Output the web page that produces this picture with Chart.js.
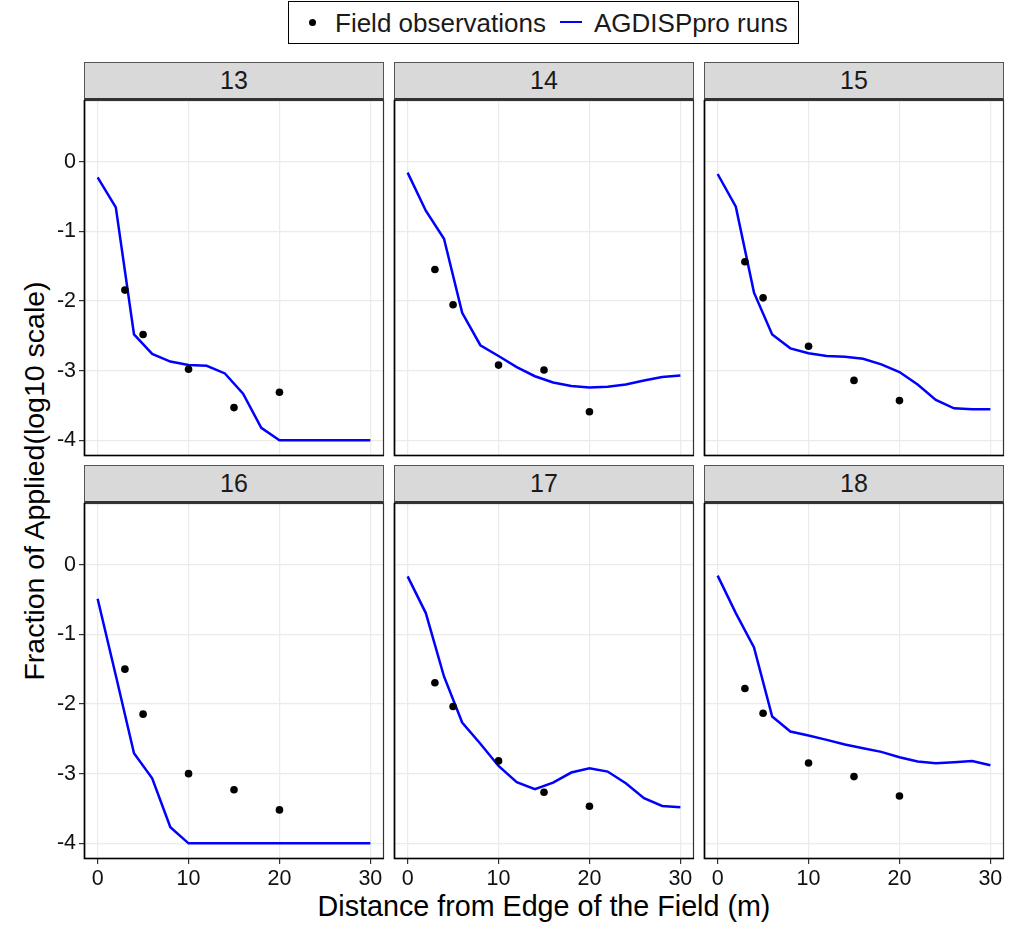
<!DOCTYPE html>
<html>
<head>
<meta charset="utf-8">
<script src="https://cdn.jsdelivr.net/npm/chart.js@4/dist/chart.umd.min.js"></script>
<style>
  html, body { margin: 0; padding: 0; background: #fff; }
  body { width: 1022px; height: 925px; position: relative; overflow: hidden;
         font-family: "Liberation Sans", Arial, sans-serif; color: #1a1a1a; }
  canvas { position: absolute; }
  .strip { position: absolute; box-sizing: border-box; background: #D9D9D9;
           border: 1px solid #555; border-bottom: 2px solid #333;
           font-size: 25px; color: #1a1a1a; text-align: center; }
  .abs { position: absolute; white-space: nowrap; }
</style>
</head>
<body>
<div id="legend" class="abs" style="left:288px;top:1px;width:511px;height:43px;box-sizing:border-box;border:1px solid #000;"></div>
<div id="legDot" class="abs" style="left:308.5px;top:19px;width:7px;height:7px;border-radius:50%;background:#000;"></div>
<div id="legText1" class="abs" style="left:335px;top:22.5px;transform:translateY(-50%);font-size:26px;line-height:30px;">Field observations</div>
<div id="legLine" class="abs" style="left:560px;top:20.5px;width:22px;height:2.5px;background:#0000FF;"></div>
<div id="legText2" class="abs" style="left:594px;top:22.5px;transform:translateY(-50%);font-size:26px;line-height:30px;">AGDISPpro runs</div>
<div id="ytitle" class="abs" style="left:34px;top:481px;transform:translate(-50%,-50%) rotate(-90deg);font-size:28.5px;line-height:32px;color:#000;">Fraction of Applied(log10 scale)</div>
<div id="xtitle" class="abs" style="left:544px;top:906px;transform:translate(-50%,-50%);font-size:28.7px;line-height:32px;color:#000;">Distance from Edge of the Field (m)</div>
<script>
// ---- data ----
const panelIds = ['13', '14', '15', '16', '17', '18'];
const modelDist = [0, 2, 4, 6, 8, 10, 12, 14, 16, 18, 20, 22, 24, 26, 28, 30];
const obsDist = [3, 5, 10, 15, 20];
const xTickValues = [0, 10, 20, 30];
const yTickValues = [-4, -3, -2, -1, 0];

const model13 = [-0.225, -0.656, -2.48, -2.76, -2.87, -2.92, -2.93, -3.04, -3.33, -3.82, -4, -4, -4, -4, -4, -4];
const obs13 = [-1.844, -2.48, -2.98, -3.53, -3.31];
const model14 = [-0.158, -0.704, -1.107, -2.17, -2.635, -2.79, -2.95, -3.08, -3.17, -3.22, -3.24, -3.23, -3.20, -3.14, -3.09, -3.07];
const obs14 = [-1.547, -2.055, -2.92, -2.99, -3.59];
const model15 = [-0.177, -0.647, -1.88, -2.48, -2.68, -2.75, -2.79, -2.80, -2.83, -2.91, -3.02, -3.20, -3.42, -3.54, -3.555, -3.555];
const obs15 = [-1.437, -1.955, -2.65, -3.14, -3.43];
const model16 = [-0.489, -1.59, -2.707, -3.066, -3.77, -4, -4, -4, -4, -4, -4, -4, -4, -4, -4, -4];
const obs16 = [-1.50, -2.146, -3.0, -3.23, -3.52];
const model17 = [-0.168, -0.695, -1.605, -2.266, -2.57, -2.889, -3.123, -3.224, -3.128, -2.984, -2.922, -2.97, -3.138, -3.353, -3.463, -3.483];
const obs17 = [-1.696, -2.036, -2.817, -3.267, -3.468];
const model18 = [-0.158, -0.695, -1.188, -2.18, -2.395, -2.453, -2.515, -2.582, -2.635, -2.687, -2.764, -2.826, -2.85, -2.836, -2.82, -2.88];
const obs18 = [-1.777, -2.132, -2.846, -3.042, -3.32];

const modelSeries = [model13, model14, model15, model16, model17, model18];
const obsSeries = [obs13, obs14, obs15, obs16, obs17, obs18];

// ---- layout ----
const colLefts = [84, 394, 704];
const rowTops = [100, 503];
const PW = 300, PH = 356, AXW = 70, AXH = 40, PADT = 20, PADR = 10, STRIPH = 38;
const FONT = "'Liberation Sans', Arial, sans-serif";

const borderPlugin = {
  id: 'panelBorder',
  afterDraw(chart) {
    const a = chart.chartArea, ctx = chart.ctx;
    ctx.save();
    ctx.strokeStyle = '#333';
    ctx.lineWidth = 1.2;
    ctx.strokeRect(a.left + 0.5, a.top + 0.5, a.right - a.left - 1, a.bottom - a.top - 1);
    ctx.strokeStyle = '#000';
    ctx.lineWidth = 1.6;
    ctx.beginPath();
    ctx.moveTo(a.left + 0.5, a.top);
    ctx.lineTo(a.left + 0.5, a.bottom - 0.5);
    ctx.lineTo(a.right, a.bottom - 0.5);
    ctx.stroke();
    ctx.restore();
  }
};

panelIds.forEach((id, i) => {
  const col = i % 3, row = Math.floor(i / 3);
  const plotL = colLefts[col], plotT = rowTops[row];

  const strip = document.createElement('div');
  strip.className = 'strip';
  strip.style.left = plotL + 'px';
  strip.style.top = (plotT - STRIPH) + 'px';
  strip.style.width = PW + 'px';
  strip.style.height = STRIPH + 'px';
  strip.style.lineHeight = (STRIPH - 3) + 'px';
  strip.textContent = id;
  document.body.appendChild(strip);

  const cv = document.createElement('canvas');
  const W = PW + AXW + PADR, H = PH + PADT + AXH;
  cv.width = W; cv.height = H;
  cv.style.width = W + 'px'; cv.style.height = H + 'px';
  cv.style.left = (plotL - AXW) + 'px';
  cv.style.top = (plotT - PADT) + 'px';
  document.body.appendChild(cv);

  const showY = col === 0, showX = row === 1;
  new Chart(cv, {
    type: 'scatter',
    data: {
      datasets: [
        {
          label: 'AGDISPpro runs',
          data: modelDist.map((x, k) => ({ x: x, y: modelSeries[i][k] })),
          showLine: true, borderColor: '#0000FF', borderWidth: 2.5,
          pointRadius: 0, fill: false, tension: 0, order: 2
        },
        {
          label: 'Field observations',
          data: obsDist.map((x, k) => ({ x: x, y: obsSeries[i][k] })),
          backgroundColor: '#000', borderWidth: 0, pointRadius: 3.8, order: 1
        }
      ]
    },
    options: {
      responsive: false, animation: false, devicePixelRatio: 1,
      layout: { padding: { top: PADT, right: PADR, left: 0, bottom: 0 } },
      plugins: { legend: { display: false }, tooltip: { enabled: false } },
      scales: {
        x: {
          type: 'linear', min: -1.5, max: 31.5,
          afterBuildTicks: s => { s.ticks = xTickValues.map(v => ({ value: v })); },
          afterFit: s => { s.height = AXH; },
          border: { display: false },
          grid: { color: '#EBEBEB', lineWidth: 1.2, drawTicks: showX, tickLength: 5, tickColor: '#333' },
          ticks: { display: showX, autoSkip: false, maxRotation: 0, padding: 2,
                   color: '#111', font: { family: FONT, size: 21.5 } }
        },
        y: {
          type: 'linear', min: -4.225, max: 0.885,
          afterBuildTicks: s => { s.ticks = yTickValues.map(v => ({ value: v })); },
          afterFit: s => { s.width = AXW; },
          border: { display: false },
          grid: { color: '#EBEBEB', lineWidth: 1.2, drawTicks: showY, tickLength: 5, tickColor: '#333' },
          ticks: { display: showY, autoSkip: false, padding: 3,
                   color: '#111', font: { family: FONT, size: 21.5 } }
        }
      }
    },
    plugins: [borderPlugin]
  });
});
</script>
</body>
</html>
